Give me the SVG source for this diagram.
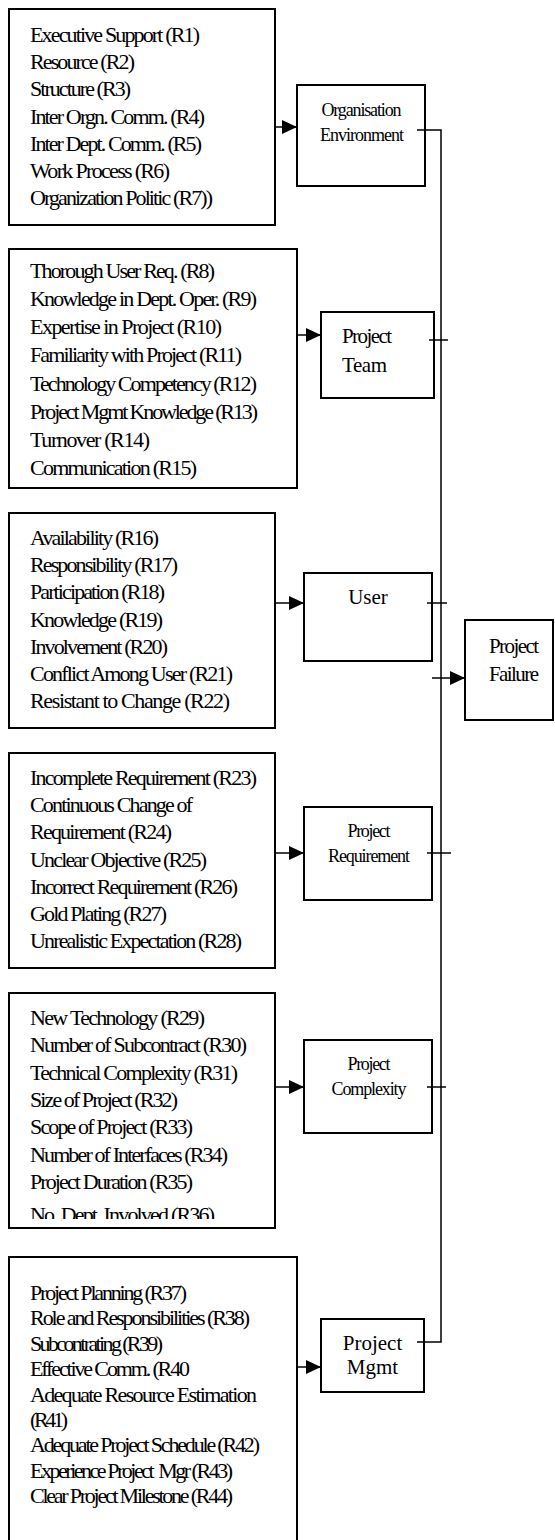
<svg xmlns="http://www.w3.org/2000/svg" width="555" height="1540" viewBox="0 0 555 1540">
<style>
.box{fill:#fff;stroke:#000;stroke-width:2}
.t{font-family:"Liberation Serif","Times New Roman",serif;font-size:22px;fill:#000}
.n{font-family:"Liberation Serif","Times New Roman",serif;font-size:21px;fill:#000}
.s{font-family:"Liberation Serif","Times New Roman",serif;font-size:18px;fill:#000}
.c{fill:none;stroke:#000;stroke-width:1.5}
</style>
<defs>
<marker id="ah" markerUnits="userSpaceOnUse" markerWidth="15" markerHeight="14" refX="15" refY="7" orient="auto">
<path d="M0,0 L15,7 L0,14 z" fill="#000"/>
</marker>
<clipPath id="clip5"><rect x="10" y="994" width="264" height="225"/></clipPath>
</defs>
<rect width="555" height="1540" fill="#fff"/>

<g id="factors-org">
<rect class="box" x="9" y="9" width="266" height="216"/>
<text class="t" x="30" y="42" textLength="170">Executive Support (R1)</text>
<text class="t" x="30" y="69" textLength="105">Resource (R2)</text>
<text class="t" x="30" y="96" textLength="101">Structure (R3)</text>
<text class="t" x="30" y="124" textLength="175">Inter Orgn. Comm. (R4)</text>
<text class="t" x="30" y="151" textLength="172">Inter Dept. Comm. (R5)</text>
<text class="t" x="30" y="178" textLength="140">Work Process (R6)</text>
<text class="t" x="30" y="205" textLength="183">Organization Politic (R7))</text>
</g>

<g id="factors-team">
<rect class="box" x="9" y="249" width="288" height="239"/>
<text class="t" x="30" y="278" textLength="185">Thorough User Req. (R8)</text>
<text class="t" x="30" y="306" textLength="227">Knowledge in Dept. Oper. (R9)</text>
<text class="t" x="30" y="334" textLength="192">Expertise in Project (R10)</text>
<text class="t" x="30" y="362" textLength="212">Familiarity with Project (R11)</text>
<text class="t" x="30" y="391" textLength="227">Technology Competency (R12)</text>
<text class="t" x="30" y="419" textLength="228">Project Mgmt Knowledge (R13)</text>
<text class="t" x="30" y="447" textLength="120">Turnover (R14)</text>
<text class="t" x="30" y="475" textLength="167">Communication (R15)</text>
</g>

<g id="factors-user">
<rect class="box" x="9" y="513" width="266" height="215"/>
<text class="t" x="30" y="545" textLength="129">Availability (R16)</text>
<text class="t" x="30" y="572" textLength="148">Responsibility (R17)</text>
<text class="t" x="30" y="599" textLength="135">Participation (R18)</text>
<text class="t" x="30" y="627" textLength="133">Knowledge (R19)</text>
<text class="t" x="30" y="654" textLength="138">Involvement (R20)</text>
<text class="t" x="30" y="681" textLength="203">Conflict Among User (R21)</text>
<text class="t" x="30" y="708" textLength="200">Resistant to Change (R22)</text>
</g>

<g id="factors-req">
<rect class="box" x="9" y="753" width="266" height="215"/>
<text class="t" x="30" y="785" textLength="227">Incomplete Requirement (R23)</text>
<text class="t" x="30" y="812" textLength="163">Continuous Change of</text>
<text class="t" x="30" y="839" textLength="142">Requirement (R24)</text>
<text class="t" x="30" y="867" textLength="177">Unclear Objective (R25)</text>
<text class="t" x="30" y="894" textLength="208">Incorrect Requirement (R26)</text>
<text class="t" x="30" y="921" textLength="137">Gold Plating (R27)</text>
<text class="t" x="30" y="948" textLength="212">Unrealistic Expectation (R28)</text>
</g>

<g id="factors-complexity">
<rect class="box" x="9" y="993" width="266" height="235"/>
<g clip-path="url(#clip5)">
<text class="t" x="30" y="1025" textLength="175">New Technology (R29)</text>
<text class="t" x="30" y="1052" textLength="217">Number of Subcontract (R30)</text>
<text class="t" x="30" y="1080" textLength="208">Technical Complexity (R31)</text>
<text class="t" x="30" y="1107" textLength="148">Size of Project (R32)</text>
<text class="t" x="30" y="1134" textLength="163">Scope of Project (R33)</text>
<text class="t" x="30" y="1162" textLength="198">Number of Interfaces (R34)</text>
<text class="t" x="30" y="1189" textLength="163">Project Duration (R35)</text>
<text class="t" x="30" y="1222" textLength="185">No. Dept. Involved (R36)</text>
</g>
</g>

<g id="factors-mgmt">
<rect class="box" x="9" y="1257" width="288" height="290"/>
<text class="t" x="30" y="1300" textLength="157">Project Planning (R37)</text>
<text class="t" x="30" y="1325" textLength="220">Role and Responsibilities (R38)</text>
<text class="t" x="30" y="1351" textLength="133">Subcontrating (R39)</text>
<text class="t" x="30" y="1376" textLength="160">Effective Comm. (R40</text>
<text class="t" x="30" y="1402" textLength="227">Adequate Resource Estimation</text>
<text class="t" x="30" y="1427" textLength="38">(R41)</text>
<text class="t" x="30" y="1452" textLength="230">Adequate Project Schedule (R42)</text>
<text class="t" x="30" y="1478" textLength="203" xml:space="preserve">Experience Project  Mgr (R43)</text>
<text class="t" x="30" y="1503" textLength="203">Clear Project Milestone (R44)</text>
</g>

<g id="node-org-env">
<rect class="box" x="297" y="85" width="128" height="101"/>
<text class="s" x="361.5" y="116" text-anchor="middle" textLength="80">Organisation</text>
<text class="s" x="362" y="140.5" text-anchor="middle" textLength="84">Environment</text>
</g>

<g id="node-project-team">
<rect class="box" x="321" y="312" width="113" height="86"/>
<text class="n" x="342" y="343" textLength="50">Project</text>
<text class="n" x="342" y="372" textLength="45">Team</text>
</g>

<g id="node-user">
<rect class="box" x="304" y="573" width="128" height="88"/>
<text class="n" x="368" y="604" text-anchor="middle">User</text>
</g>

<g id="node-project-failure">
<rect class="box" x="465" y="620" width="88" height="100"/>
<text class="n" x="489" y="653" textLength="50">Project</text>
<text class="n" x="489" y="681" textLength="50">Failure</text>
</g>

<g id="node-project-requirement">
<rect class="box" x="304" y="807" width="128" height="93"/>
<text class="s" x="369" y="837" text-anchor="middle" textLength="43">Project</text>
<text class="s" x="369" y="862" text-anchor="middle" textLength="82">Requirement</text>
</g>

<g id="node-project-complexity">
<rect class="box" x="304" y="1040" width="128" height="93"/>
<text class="s" x="369" y="1070" text-anchor="middle" textLength="43">Project</text>
<text class="s" x="369" y="1095" text-anchor="middle" textLength="75">Complexity</text>
</g>

<g id="node-project-mgmt">
<rect class="box" x="321" y="1319" width="103" height="73"/>
<text class="n" x="372.5" y="1350" text-anchor="middle">Project</text>
<text class="n" x="372.5" y="1374" text-anchor="middle">Mgmt</text>
</g>

<g id="connectors">
<line class="c" x1="275" y1="127" x2="297" y2="127" marker-end="url(#ah)"/>
<line class="c" x1="297" y1="335" x2="321" y2="335" marker-end="url(#ah)"/>
<line class="c" x1="275" y1="603" x2="304" y2="603" marker-end="url(#ah)"/>
<line class="c" x1="275" y1="853" x2="304" y2="853" marker-end="url(#ah)"/>
<line class="c" x1="275" y1="1087" x2="304" y2="1087" marker-end="url(#ah)"/>
<line class="c" x1="297" y1="1367" x2="321" y2="1367" marker-end="url(#ah)"/>
<polyline class="c" points="417,130 441,130 441,1342 417,1342"/>
<line class="c" x1="429" y1="340" x2="448" y2="340"/>
<line class="c" x1="427" y1="603" x2="447" y2="603"/>
<line class="c" x1="427" y1="853" x2="451" y2="853"/>
<line class="c" x1="427" y1="1087" x2="446" y2="1087"/>
<line class="c" x1="432" y1="678" x2="465" y2="678" marker-end="url(#ah)"/>
</g>
</svg>
